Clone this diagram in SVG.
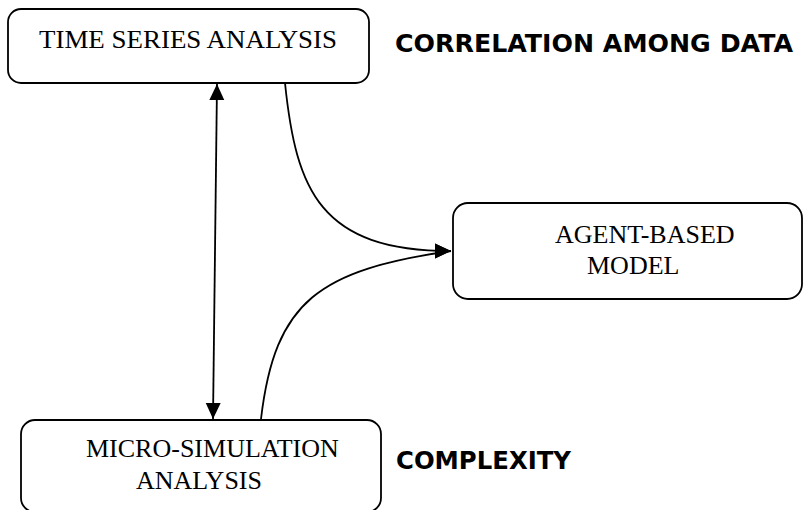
<svg xmlns="http://www.w3.org/2000/svg" width="804" height="510" viewBox="0 0 804 510">
<style>
.box{fill:#fff;stroke:#000;stroke-width:1.8}
.lbl{font-family:"Liberation Serif","Times New Roman",serif;font-size:26px;fill:#000}
.note{font-family:"Comic Sans MS","DejaVu Sans",sans-serif;font-weight:bold;font-size:25px;fill:#000}
.con{fill:none;stroke:#000;stroke-width:1.8}
</style>
<defs>
<marker id="ah" markerUnits="userSpaceOnUse" markerWidth="16" markerHeight="16" viewBox="0 0 15 14" refX="15" refY="7" orient="auto-start-reverse"><path d="M0,0 L15,7 L0,14 z" fill="#000"/></marker>
<marker id="ahH" markerUnits="userSpaceOnUse" markerWidth="16" markerHeight="16" viewBox="0 0 15 14" refX="15" refY="7" orient="0"><path d="M0,0 L15,7 L0,14 z" fill="#000"/></marker>
</defs>
<rect width="804" height="510" fill="#fff"/>
<g id="connectors">
<path class="con" d="M217,84 L213,419" marker-start="url(#ah)" marker-end="url(#ah)"/>
<path class="con" d="M285,83 C296,190 320,251 451,251" marker-end="url(#ahH)"/>
<path class="con" d="M261,419 C275,300 320,270 451,251" marker-end="url(#ahH)"/>
</g>
<g id="time-series">
<rect class="box" x="8" y="9" width="361" height="74" rx="13"/>
<text class="lbl" x="39" y="48" textLength="298" lengthAdjust="spacingAndGlyphs">TIME SERIES ANALYSIS</text>
</g>
<g id="agent-based">
<rect class="box" x="453" y="203" width="349" height="96" rx="15"/>
<text class="lbl" x="555" y="243">AGENT-BASED</text>
<text class="lbl" x="587" y="274">MODEL</text>
</g>
<g id="micro-simulation">
<rect class="box" x="21" y="420" width="360" height="92" rx="14"/>
<text class="lbl" x="86" y="457">MICRO-SIMULATION</text>
<text class="lbl" x="136" y="489">ANALYSIS</text>
</g>
<g id="notes">
<text class="note" x="395" y="52" textLength="398" lengthAdjust="spacingAndGlyphs">CORRELATION AMONG DATA</text>
<text class="note" x="396" y="469" textLength="175" lengthAdjust="spacingAndGlyphs">COMPLEXITY</text>
</g>
</svg>
